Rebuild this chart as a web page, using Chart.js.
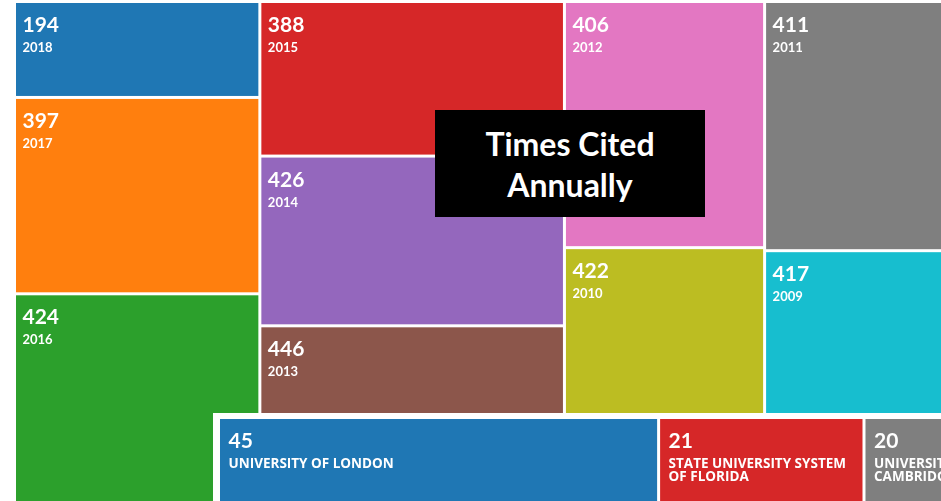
<!DOCTYPE html>
<html>
<head>
<meta charset="utf-8">
<script src="https://cdn.jsdelivr.net/npm/chart.js@4.4.1/dist/chart.umd.min.js"></script>
<style>
    html, body { margin: 0; padding: 0; background: #fff; overflow: hidden; }
    #wrap { position: relative; width: 941px; height: 501px; }
    #mainChart { position: absolute; left: 0; top: 0; }
    #instBox { position: absolute; left: 213px; top: 413px; width: 728px; height: 88px; background: #fff; }
    #title {
        position: absolute; left: 435px; top: 110px; width: 270px; height: 107px;
        background: #000; color: #fff; font: bold 32px Lato, sans-serif; line-height: 41px;
        display: flex; align-items: center; justify-content: center; text-align: center;
    }
</style>
</head>
<body>
<div id="wrap">
    <canvas id="mainChart" width="941" height="501"></canvas>
    <div id="title">Times Cited<br>Annually</div>
    <div id="instBox"><canvas id="instChart" width="728" height="88"></canvas></div>
</div>
<script>
// times cited per year
const years = ['2018', '2017', '2016', '2015', '2014', '2013', '2012', '2011', '2010', '2009'];
const timesCited = [194, 397, 424, 388, 426, 446, 406, 411, 422, 417];
const yearColors = ['#1f77b4', '#ff7f0e', '#2ca02c', '#d62728', '#9467bd', '#8c564b', '#e377c2', '#7f7f7f', '#bcbd22', '#17becf'];
// which years share a column in the treemap (indexes into years)
const yearColumns = [[0, 1, 2], [3, 4, 5], [6, 8], [7, 9]];

// records by organization
const institutions = ['UNIVERSITY OF LONDON', 'STATE UNIVERSITY SYSTEM OF FLORIDA', 'UNIVERSITY OF CAMBRIDGE'];
const instRecords = [45, 21, 20];
const instColors = ['#1f77b4', '#d62728', '#7f7f7f'];
const instColumns = [[0], [1], [2]];

// slice-and-dice layout in 0..1 units: column width ~ column sum, cell height ~ value
function sliceLayout(values, labels, columns) {
    const total = columns.flat().reduce((s, i) => s + values[i], 0);
    const cells = [];
    let x = 0;
    columns.forEach(col => {
        const colSum = col.reduce((s, i) => s + values[i], 0);
        const w = colSum / total;
        let y = 0;
        col.forEach(i => {
            const h = values[i] / colSum;
            cells.push({ x: x + w / 2, y: y + h / 2, x0: x, x1: x + w, y0: y, y1: y + h, i, value: values[i], label: labels[i] });
            y += h;
        });
        x += w;
    });
    return cells;
}

function wrapWords(ctx, text, maxWidth) {
    const words = text.split(' ');
    const lines = [];
    let line = '';
    words.forEach(w => {
        const test = line ? line + ' ' + w : w;
        if (line && ctx.measureText(test).width > maxWidth) {
            lines.push(line);
            line = w;
        } else {
            line = test;
        }
    });
    if (line) lines.push(line);
    return lines;
}

// draws the cells of dataset 0 as rectangles using the x / y scales
const treemapCells = {
    id: 'treemapCells',
    afterDatasetsDraw(chart, args, opts) {
        const { ctx, scales: { x, y } } = chart;
        const gap = 1.5;
        ctx.save();
        chart.data.datasets[0].data.forEach(c => {
            const left = x.getPixelForValue(c.x0) + gap;
            const right = x.getPixelForValue(c.x1) - gap;
            const top = y.getPixelForValue(c.y0) + gap;
            const bottom = y.getPixelForValue(c.y1) - gap;
            ctx.fillStyle = opts.colors[c.i];
            ctx.fillRect(left, top, right - left, bottom - top);

            ctx.fillStyle = '#fff';
            ctx.textBaseline = 'alphabetic';
            ctx.textAlign = 'left';
            ctx.font = 'bold 21px Lato, sans-serif';
            ctx.fillText(String(c.value), left + opts.padX, top + 29);
            ctx.font = opts.labelFont;
            const lines = opts.wrap ? wrapWords(ctx, c.label, right - left - 2 * opts.padX) : [c.label];
            lines.forEach((ln, k) => {
                ctx.fillText(ln, left + opts.padX, top + 49 + k * opts.lineHeight);
            });
        });
        ctx.restore();
    }
};

function makeTreemap(canvasId, cells, colors, view, padding, labelOpts) {
    return new Chart(document.getElementById(canvasId), {
        type: 'scatter',
        data: { datasets: [{ data: cells, pointRadius: 0, pointHoverRadius: 0 }] },
        options: {
            responsive: false,
            animation: false,
            devicePixelRatio: 1,
            events: [],
            layout: { padding: padding },
            plugins: {
                legend: { display: false },
                tooltip: { enabled: false },
                treemapCells: Object.assign({ colors: colors }, labelOpts)
            },
            scales: {
                x: { type: 'linear', display: false, min: 0, max: view.x },
                y: { type: 'linear', display: false, reverse: true, min: 0, max: view.y }
            }
        },
        plugins: [treemapCells]
    });
}

// view.x / view.y = part of the treemap that is visible in the cropped screenshot
makeTreemap('mainChart', sliceLayout(timesCited, years, yearColumns), yearColors,
    { x: 0.975, y: 0.995 }, { left: 14.5, top: 1.5, right: 0, bottom: 0 },
    { padX: 6.5, labelFont: 'bold 13px Lato, sans-serif', wrap: false, lineHeight: 13 });

makeTreemap('instChart', sliceLayout(instRecords, institutions, instColumns), instColors,
    { x: 0.859, y: 0.5 }, { left: 5.5, top: 4.5, right: 0, bottom: 0 },
    { padX: 8.5, labelFont: 'bold 13.5px "Open Sans", sans-serif', wrap: true, lineHeight: 13 });
</script>
</body>
</html>
